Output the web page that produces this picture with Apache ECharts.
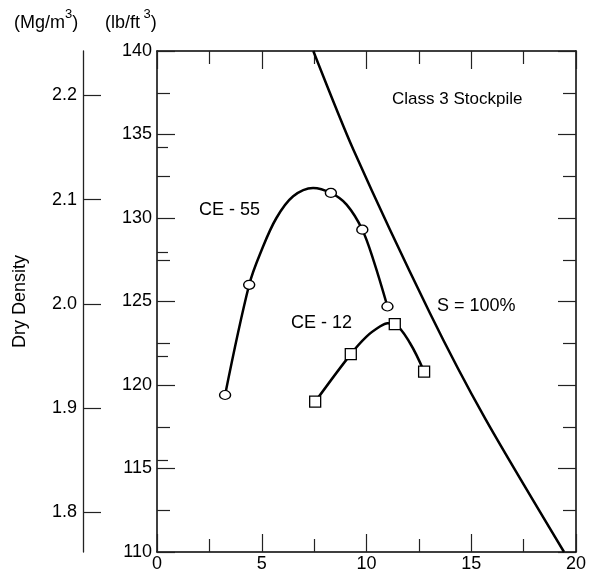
<!DOCTYPE html>
<html>
<head>
<meta charset="utf-8">
<script src="https://cdn.jsdelivr.net/npm/echarts@6/dist/echarts.min.js"></script>
<style>
  html, body { margin: 0; padding: 0; background: #fff; }
  #chart { width: 594px; height: 577px; }
</style>
</head>
<body>
<div id="chart"></div>
<script>
// Compaction curves: moisture content (%) against dry density (lb/ft3)
const ce55Points = [[3.25, 119.4], [4.4, 126.0], [8.3, 131.5], [9.8, 129.3], [11.0, 124.7]];
const ce55Curve = [[3.25, 119.4], [4.4, 126.0], [5.0, 128.1], [5.7, 130.0], [6.5, 131.3], [7.45, 131.8],
                   [8.3, 131.5], [9.05, 130.8], [9.8, 129.3], [10.35, 127.4], [11.0, 124.7]];
const ce12Points = [[7.55, 119.0], [9.25, 121.85], [11.35, 123.65], [12.75, 120.8]];
const ce12Curve = [[7.55, 119.0], [9.25, 121.85], [10.0, 122.9], [10.64, 123.5], [11.0, 123.7],
                   [11.35, 123.65], [12.08, 122.5], [12.75, 120.8]];
// Zero-air-voids (100 % saturation) line
const saturationLine = [[7.46, 140.0], [9.37, 134.1], [13.03, 124.3], [15.66, 118.0], [19.43, 110.0]];

// Axis ranges and tick values
const xRange = [0, 20];
const lbRange = [110, 140];
const LB_PER_MG = 62.428;            // 1 Mg/m3 = 62.428 lb/ft3
const mgMajorTicks = [1.8, 1.9, 2.0, 2.1, 2.2];
const mgMinorTicks = [1.85, 1.95, 2.05, 2.15];

const FONT = 'Liberation Sans, Arial, sans-serif';
const INK = '#000';

const boxAxis = (extra) => Object.assign({
  axisLine: { show: true, onZero: false, lineStyle: { color: INK, width: 1.5 } },
  axisTick: { show: true, inside: true, length: 18, lineStyle: { color: '#222', width: 1.2 } },
  minorTick: { show: true, splitNumber: 2, length: 13, lineStyle: { color: '#222', width: 1.2 } },
  splitLine: { show: false },
  minorSplitLine: { show: false },
  axisLabel: { show: false }
}, extra);

const tickLabel = { show: true, color: INK, fontSize: 18, fontFamily: FONT };
const unitRich = {
  b: { fontSize: 18, fontFamily: FONT, verticalAlign: 'bottom', lineHeight: 24 },
  s: { fontSize: 13, fontFamily: FONT, verticalAlign: 'top', lineHeight: 24 }
};

const chart = echarts.init(document.getElementById('chart'));
chart.setOption({
  animation: false,
  backgroundColor: '#fff',
  grid: { left: 157, right: 18, top: 51, bottom: 25, containLabel: false },
  xAxis: [
    boxAxis({ type: 'value', position: 'bottom', min: xRange[0], max: xRange[1], interval: 5,
              axisLabel: Object.assign({}, tickLabel, { margin: 3 }) }),
    boxAxis({ type: 'value', position: 'top', min: xRange[0], max: xRange[1], interval: 5 })
  ],
  yAxis: [
    boxAxis({ type: 'value', position: 'left', min: lbRange[0], max: lbRange[1], interval: 5,
              axisLabel: Object.assign({}, tickLabel, { margin: 5 }) }),
    boxAxis({ type: 'value', position: 'right', min: lbRange[0], max: lbRange[1], interval: 5 }),
    {
      type: 'value', position: 'left', offset: 74,
      min: lbRange[0] / LB_PER_MG, max: lbRange[1] / LB_PER_MG,
      name: 'Dry Density', nameLocation: 'middle', nameRotate: 90, nameGap: 54,
      nameTextStyle: { color: INK, fontSize: 18, fontFamily: FONT },
      axisLine: { show: true, onZero: false, lineStyle: { color: '#222', width: 1.3 } },
      axisTick: { show: true, inside: true, length: 18, customValues: mgMajorTicks,
                  lineStyle: { color: '#222', width: 1.2 } },
      axisLabel: Object.assign({}, tickLabel, { margin: 6, customValues: mgMajorTicks,
                  formatter: (v) => v.toFixed(1) }),
      splitLine: { show: false }
    },
    {
      type: 'value', position: 'left', offset: 74,
      min: lbRange[0] / LB_PER_MG, max: lbRange[1] / LB_PER_MG,
      axisLine: { show: false },
      axisTick: { show: true, inside: true, length: 11, customValues: mgMinorTicks,
                  lineStyle: { color: '#222', width: 1.2 } },
      axisLabel: { show: false },
      splitLine: { show: false }
    }
  ],
  series: [
    { type: 'line', data: saturationLine, smooth: 0.25, showSymbol: false,
      lineStyle: { color: INK, width: 2.5 }, z: 3 },
    { type: 'line', data: ce55Curve, smooth: 0.35, showSymbol: false,
      lineStyle: { color: INK, width: 2.5 }, z: 3 },
    { type: 'line', data: ce12Curve, smooth: 0.35, showSymbol: false,
      lineStyle: { color: INK, width: 2.5 }, z: 3 },
    { type: 'scatter', data: ce55Points, symbol: 'circle', symbolSize: [11, 9],
      itemStyle: { color: '#fff', borderColor: INK, borderWidth: 1.3, opacity: 1 }, z: 5 },
    { type: 'scatter', data: ce12Points, symbol: 'rect', symbolSize: 11,
      itemStyle: { color: '#fff', borderColor: INK, borderWidth: 1.3, opacity: 1 }, z: 5 }
  ],
  graphic: [
    { type: 'text', left: 14, top: 8,
      style: { text: '{b|(Mg/m}{s|3}{b|)}', fill: INK, font: '18px ' + FONT, rich: unitRich } },
    { type: 'text', left: 105, top: 8,
      style: { text: '{b|(lb/ft}{s| 3}{b|)}', fill: INK, font: '18px ' + FONT, rich: unitRich } },
    { type: 'text', left: 392, top: 91,
      style: { text: 'Class 3 Stockpile', fill: INK, font: '17px ' + FONT } },
    { type: 'text', left: 199, top: 201,
      style: { text: 'CE - 55', fill: INK, font: '18px ' + FONT } },
    { type: 'text', left: 291, top: 314,
      style: { text: 'CE - 12', fill: INK, font: '18px ' + FONT } },
    { type: 'text', left: 437, top: 297,
      style: { text: 'S = 100%', fill: INK, font: '18px ' + FONT } }
  ]
});
</script>
</body>
</html>
